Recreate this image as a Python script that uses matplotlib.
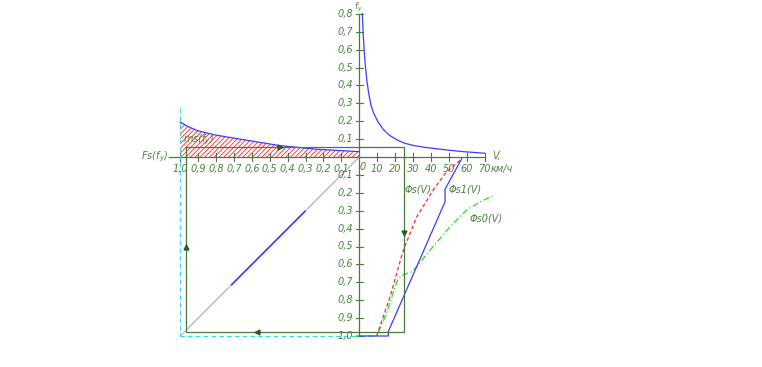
import numpy as np
import matplotlib
matplotlib.use("Agg")
import matplotlib.pyplot as plt

# nomogram: right = V (km/h), up = f_y, left = Fs(f_y), down = Phi(V)
V_fy = [1.7, 2.2, 2.7, 3.4, 4.2, 5.2, 6.5, 8, 10.5, 13.6, 17, 21, 25, 30.4, 38, 49, 58, 70]
fy_V = [0.8, 0.68, 0.6, 0.507, 0.43, 0.358, 0.29, 0.245, 0.195, 0.152, 0.12, 0.096, 0.078, 0.064, 0.052, 0.039, 0.03, 0.021]

Fs_ms = [1.0, 0.957, 0.9, 0.81, 0.606, 0.44, 0.235, 0.0]
fy_ms = [0.195, 0.17, 0.146, 0.124, 0.09, 0.063, 0.043, 0.03]

V_phis = [9.7, 13.4, 17.2, 24.6, 32.1, 41.3, 48.8, 57.2]
phis = [1.0, 0.892, 0.78, 0.52, 0.334, 0.184, 0.082, 0.011]

V_phis1 = [0, 16.2, 16.2, 47.9, 47.9, 57.2]
phis1 = [1.0, 1.0, 0.975, 0.25, 0.18, 0.01]

V_phis0 = [-2, 9.7, 15.3, 20, 21.8, 24.6, 29.3, 32.1, 39.6, 50.8, 60, 67.6, 74.5]
phis0 = [1.0, 1.0, 0.873, 0.725, 0.678, 0.659, 0.641, 0.613, 0.52, 0.389, 0.296, 0.25, 0.218]

# working point of the example loop
V_work = 25
fy_work = 0.0575
Fs_work = 0.97
phi_work = 0.975

up_ticks = [0.1, 0.2, 0.3, 0.4, 0.5, 0.6, 0.7, 0.8]
down_ticks = [0.1, 0.2, 0.3, 0.4, 0.5, 0.6, 0.7, 0.8, 0.9, 1.0]
left_ticks = [0.1, 0.2, 0.3, 0.4, 0.5, 0.6, 0.7, 0.8, 0.9, 1.0]
v_ticks = [10, 20, 30, 40, 50, 60, 70]

AX = "#4a7a3a"
TXT = "#4f8045"
BLUE = "#3c3cff"
RED = "#ff2a2a"
GRN = "#22dd22"
CYAN = "#30dede"

plt.rcParams["hatch.linewidth"] = 0.6
plt.rcParams["hatch.color"] = RED


def vx(v):
    return np.asarray(v, dtype=float) / 100.0


def lbl(v):
    return f"{v:.1f}".replace(".", ",")


fig = plt.figure(figsize=(7.62, 3.67), dpi=100)
ax = fig.add_axes([0, 0, 1, 1])
ax.set_xlim(-359.3 / 179, (762 - 359.3) / 179)
ax.set_ylim(-(367 - 157) / 179, 157 / 179)
ax.axis("off")

tk = 0.02
tfont = dict(fontsize=7, fontstyle="italic", color=TXT, zorder=5)

# axes
ax.plot([-1.063, 0.70], [0, 0], color=AX, lw=0.9)
ax.plot([0, 0], [-1.0, 0.8], color=AX, lw=0.9)

for t in up_ticks:
    ax.plot([-tk, tk], [t, t], color=AX, lw=0.8)
    ax.text(-0.035, t, lbl(t), ha="right", va="center", **tfont)
for t in down_ticks:
    ax.plot([-tk, tk], [-t, -t], color=AX, lw=0.8)
    ax.text(-0.035, -t, lbl(t), ha="right", va="center", **tfont)
for t in left_ticks:
    ax.plot([-t, -t], [-tk, tk], color=AX, lw=0.8)
    ax.text(-t, -0.068, lbl(t), ha="center", va="center", **tfont)
for t in v_ticks:
    ax.plot([vx(t), vx(t)], [-tk, tk], color=AX, lw=0.8)
    ax.text(vx(t), -0.067, str(t), ha="center", va="center", **tfont)
ax.text(0.018, -0.058, "0", ha="center", va="center", **tfont)

ax.text(-0.008, 0.872, "f$_y$", ha="center", va="top", fontsize=6,
        fontstyle="italic", color=TXT)
ax.text(0.741, 0.005, "V,", ha="left", va="center", **tfont)
ax.text(0.735, -0.067, "км/ч", ha="left", va="center", **tfont)
ax.text(-1.069, 0.0, "Fs(f$_y$)", ha="right", va="center", **tfont)
ax.text(-0.985, 0.095, "ms(f$_y$)", ha="left", va="center", **tfont)
ax.text(0.255, -0.184, "Φs(V)", ha="left", va="center", **tfont)
ax.text(0.50, -0.184, "Φs1(V)", ha="left", va="center", **tfont)
ax.text(0.618, -0.341, "Φs0(V)", ha="left", va="center", **tfont)

# cyan construction lines
ax.plot([-1, -1], [0.274, -1.0], color=CYAN, lw=0.8, dashes=(4, 3))
ax.plot([-1, -0.024], [-1.0, -1.0], color=CYAN, lw=0.8, dashes=(4, 3))

# f_y(V)
ax.plot(vx(V_fy), fy_V, color=BLUE, lw=0.9)

# ms(f_y) with hatch
ms_x = -np.asarray(Fs_ms)
ax.fill_between(ms_x, 0, fy_ms, facecolor="none", edgecolor=RED, hatch="///////", lw=0)
ax.plot(ms_x, fy_ms, color=BLUE, lw=0.9)

# diagonal
ax.plot([-1, 0], [-1, 0], color="#8a8aff", lw=0.6)
ax.plot([-0.713, -0.303], [-0.713, -0.303], color=BLUE, lw=1.2)

# Phi curves
ax.plot(vx(V_phis0), -np.asarray(phis0), color=GRN, lw=0.9, dashes=(5, 2, 1, 2))
ax.plot(vx(V_phis1), -np.asarray(phis1), color=BLUE, lw=0.9)
ax.plot(vx(V_phis), -np.asarray(phis), color=RED, lw=0.9, dashes=(3, 2))

# example loop
xl, xr = -Fs_work, vx(V_work)
yt, yb = fy_work, -phi_work
ax.plot([xl, xr, xr, xl, xl], [yt, yt, yb, yb, yt], color=AX, lw=0.9)
ax.plot([xr], [-0.425], marker="v", ms=3.5, color="#2f5a25")
ax.plot([xl], [-0.50], marker="^", ms=3.5, color="#2f5a25")
ax.plot([-0.573], [yb], marker="<", ms=3.5, color="#2f5a25")
ax.plot([-0.443], [yt], marker=">", ms=3.5, color="#2f5a25")

fig.savefig("out.png", dpi=100)
